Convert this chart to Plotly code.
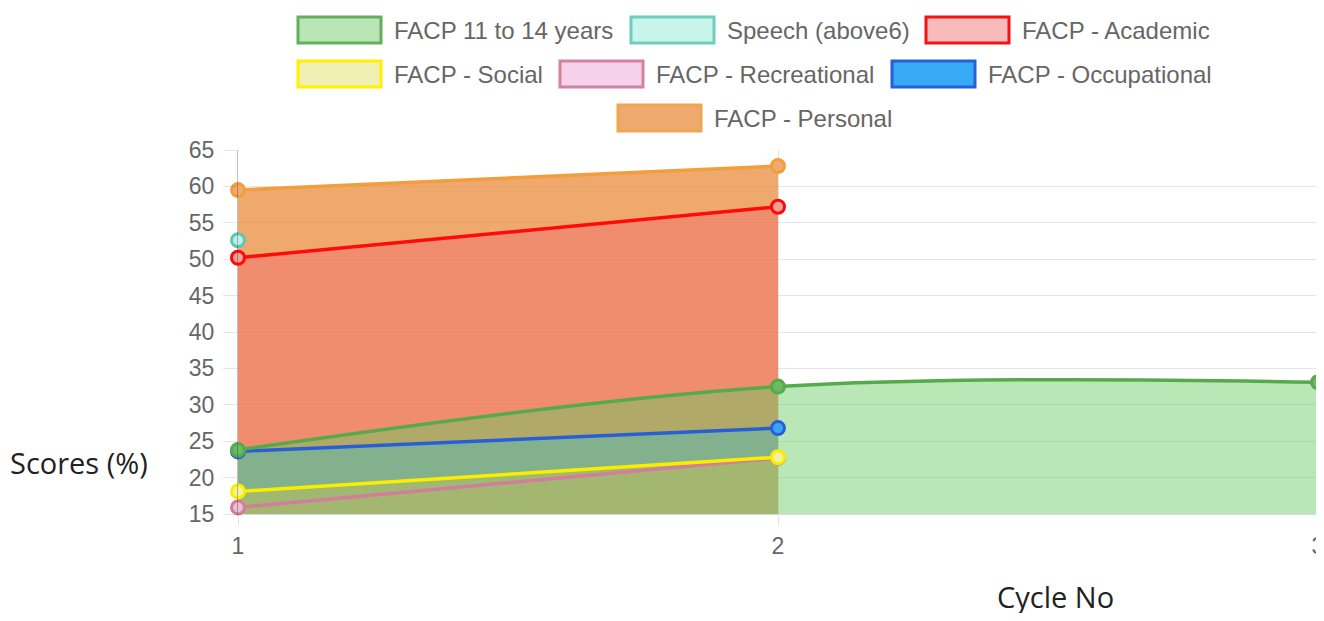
import plotly.graph_objects as go

# ---------------- data ----------------
cycles = [1, 2, 3]
series_names = [
    "FACP 11 to 14 years",
    "Speech (above6)",
    "FACP - Academic",
    "FACP - Social",
    "FACP - Recreational",
    "FACP - Occupational",
    "FACP - Personal",
]
facp_11_14 = [23.8, 32.5, 33.1]
speech_above6 = [52.6, None, None]
facp_academic = [50.2, 57.2, None]
facp_social = [18.1, 22.8, None]
facp_recreational = [15.9, 22.7, None]
facp_occupational = [23.6, 26.8, None]
facp_personal = [59.5, 62.8, None]
y_ticks = [15, 20, 25, 30, 35, 40, 45, 50, 55, 60, 65]
x_ticks = [1, 2, 3]

series_values = [facp_11_14, speech_above6, facp_academic, facp_social,
                 facp_recreational, facp_occupational, facp_personal]

# ---------------- styles ----------------
line_colors = ["rgb(86,170,76)", "rgb(95,198,180)", "rgb(255,10,10)",
               "rgb(250,238,0)", "rgb(210,125,155)", "rgb(40,95,215)",
               "rgb(242,158,62)"]
fill_colors = ["rgba(99,204,93,0.45)", "rgba(120,220,200,0.3)",
               "rgba(245,100,115,0.4)", "rgba(240,230,90,0.6)",
               "rgba(230,150,190,0.3)", "rgba(65,198,255,0.8)",
               "rgba(233,140,60,0.75)"]
marker_fill = ["rgb(110,185,100)", "rgb(190,238,228)", "rgb(245,160,150)",
               "rgb(245,240,160)", "rgb(235,190,210)", "rgb(55,165,245)",
               "rgb(240,170,110)"]
swatch_fill = ["rgb(185,230,180)", "rgb(200,245,235)", "rgb(247,187,187)",
               "rgb(240,240,180)", "rgb(245,210,233)", "rgb(55,170,245)",
               "rgb(238,170,110)"]
swatch_border = ["rgb(100,175,95)", "rgb(110,205,190)", "rgb(240,20,20)",
                 "rgb(255,240,0)", "rgb(210,130,160)", "rgb(40,95,215)",
                 "rgb(242,165,80)"]
# legend layout in window pixels: (box left, row center y)
legend_pos = [(298, 30), (631, 30), (926, 30),
              (298, 74), (560, 74), (892, 74),
              (618, 118)]

OFF = 8  # page body margin
W, H = 1316, 605
ML, MR, MT = 238 - OFF, 6, 150 - OFF
PH = 364
MB = H - MT - PH
PW = W - ML - MR


def px2x(px):
    return (px - OFF - ML) / PW


def py2y(py):
    return (MT + PH - (py - OFF)) / PH


fig = go.Figure()

# Chart.js draws later datasets below earlier ones -> reverse order
order = list(range(len(series_names)))[::-1]

for i in order:
    vals = series_values[i]
    xs = [c for c, v in zip(cycles, vals) if v is not None]
    ys = [v for v in vals if v is not None]
    if len(ys) > 1:
        fig.add_trace(go.Scatter(
            x=xs, y=ys, mode="lines", fill="tozeroy",
            fillcolor=fill_colors[i], line=dict(width=0, shape="spline", smoothing=1),
            hoverinfo="skip", showlegend=False))

for i in order:
    vals = series_values[i]
    xs = [c for c, v in zip(cycles, vals) if v is not None]
    ys = [v for v in vals if v is not None]
    fig.add_trace(go.Scatter(
        x=xs, y=ys, mode="lines+markers", name=series_names[i],
        line=dict(color=line_colors[i], width=3.5, shape="spline", smoothing=1),
        marker=dict(size=13, color=marker_fill[i],
                    line=dict(color=line_colors[i], width=3)),
        cliponaxis=False, showlegend=False))

shapes = []
annotations = []
for i, name in enumerate(series_names):
    bx, cy = legend_pos[i]
    shapes.append(dict(type="rect", xref="paper", yref="paper",
                       x0=px2x(bx), x1=px2x(bx + 83),
                       y0=py2y(cy + 13), y1=py2y(cy - 13),
                       fillcolor=swatch_fill[i],
                       line=dict(color=swatch_border[i], width=3)))
    annotations.append(dict(xref="paper", yref="paper", x=px2x(bx + 94),
                            y=py2y(cy), xanchor="left", yanchor="middle",
                            text=name, showarrow=False,
                            font=dict(family="Liberation Sans", size=24,
                                      color="#666666")))

annotations.append(dict(xref="paper", yref="paper", x=px2x(8), y=py2y(462),
                        xanchor="left", yanchor="middle", text="Scores (%)",
                        showarrow=False,
                        font=dict(family="Open Sans", size=29, color="#222222")))
annotations.append(dict(xref="paper", yref="paper", x=px2x(995), y=py2y(596),
                        xanchor="left", yanchor="middle", text="Cycle No",
                        showarrow=False,
                        font=dict(family="Open Sans", size=29, color="#222222")))

fig.update_layout(
    width=W, height=H, autosize=False,
    margin=dict(l=ML, r=MR, t=MT, b=MB, pad=0),
    paper_bgcolor="white", plot_bgcolor="white",
    showlegend=False,
    shapes=shapes, annotations=annotations,
    xaxis=dict(range=[1, 3], tickvals=x_ticks, ticktext=[str(t) for t in x_ticks],
               showgrid=True, gridcolor="rgba(0,0,0,0.1)", gridwidth=1,
               showline=True, linecolor="rgba(0,0,0,0.15)", linewidth=1,
               ticks="outside", ticklen=11, tickcolor="rgba(0,0,0,0.1)",
               zeroline=False, ticklabeloverflow="allow", automargin=False,
               tickfont=dict(family="Liberation Sans", size=23, color="#666666")),
    yaxis=dict(range=[15, 65], tickvals=y_ticks, ticktext=[str(t) for t in y_ticks],
               showgrid=True, gridcolor="rgba(0,0,0,0.1)", gridwidth=1,
               showline=True, linecolor="rgba(0,0,0,0.25)", linewidth=1,
               ticks="outside", ticklen=14, tickcolor="rgba(0,0,0,0.1)",
               zeroline=False, ticklabelstandoff=4, automargin=False,
               tickfont=dict(family="Liberation Sans", size=23, color="#666666")),
)

fig.write_html("out.html")
